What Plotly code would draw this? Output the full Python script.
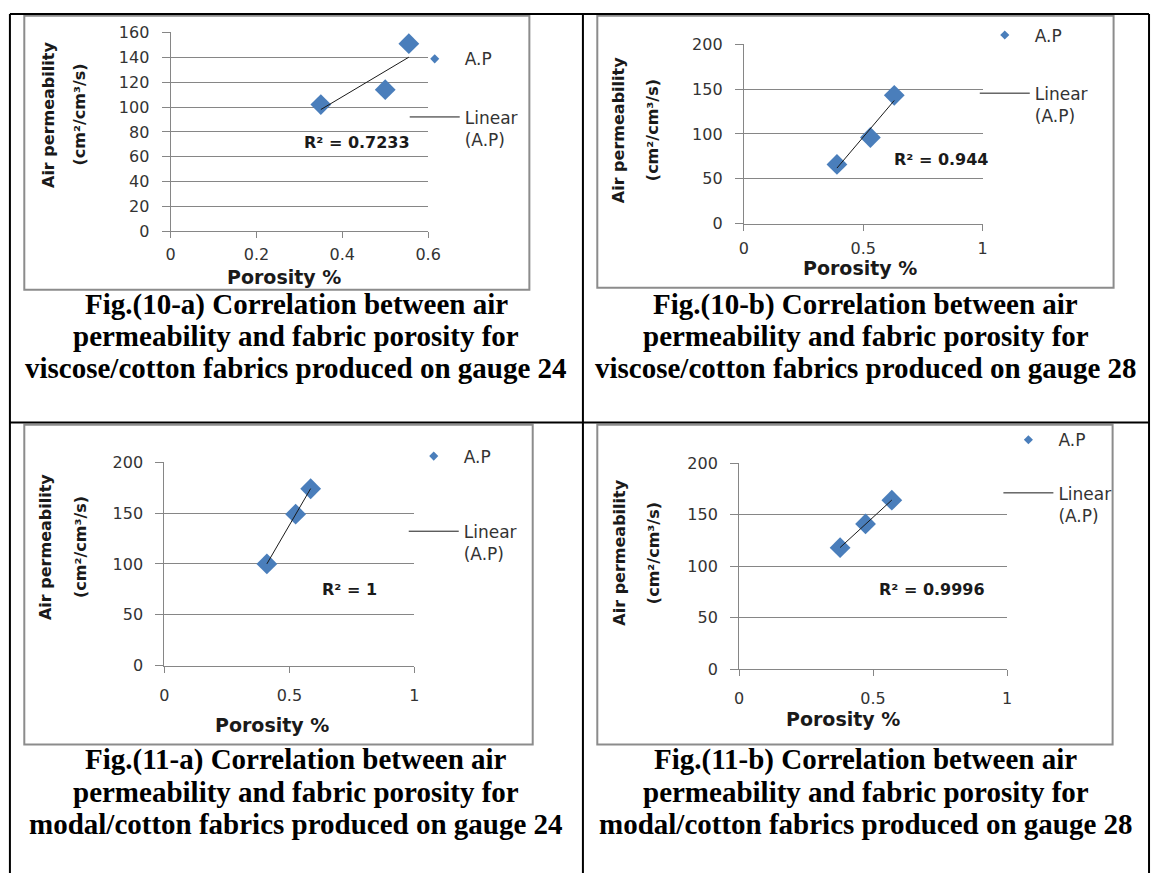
import numpy as np
import plotly.graph_objects as go

# ---------------- data ----------------
porosity_10a = [0.35, 0.50, 0.555]
airperm_10a = [102, 114, 151]
porosity_10b = [0.39, 0.53, 0.63]
airperm_10b = [66, 96, 143]
porosity_11a = [0.41, 0.525, 0.585]
airperm_11a = [100, 149, 174]
porosity_11b = [0.377, 0.472, 0.570]
airperm_11b = [118, 141, 164]

r2_labels = ["R² = 0.7233", "R² = 0.944", "R² = 1", "R² = 0.9996"]
x_ranges = [[0, 0.6], [0, 1], [0, 1], [0, 1]]
x_dticks = [0.2, 0.5, 0.5, 0.5]
y_ranges = [[0, 160], [0, 200], [0, 200], [0, 200]]
y_dticks = [20, 50, 50, 50]

captions = [
    ["Fig.(10-a) Correlation between air", "permeability and fabric porosity for",
     "viscose/cotton fabrics produced on gauge 24"],
    ["Fig.(10-b) Correlation between air", "permeability and fabric porosity for",
     "viscose/cotton fabrics produced on gauge 28"],
    ["Fig.(11-a) Correlation between air", "permeability and fabric porosity for",
     "modal/cotton fabrics produced on gauge 24"],
    ["Fig.(11-b) Correlation between air", "permeability and fabric porosity for",
     "modal/cotton fabrics produced on gauge 28"],
]
series_x = [porosity_10a, porosity_10b, porosity_11a, porosity_11b]
series_y = [airperm_10a, airperm_10b, airperm_11a, airperm_11b]

# ---------------- layout geometry (pixels) ----------------
W, H = 1164, 883
def px(x):
    return x / W
def py(y):
    return 1 - y / H

# plot areas: (x_left, x_right, y_top, y_bottom)
plot_px = [(168.2, 429.8, 24.0, 227.3), (750.4, 993.0, 36.0, 219.3),
           (161.8, 415.9, 463.3, 671.0), (745.6, 1017.8, 464.0, 675.0)]
frame_px = [(19.6, 7, 532.6, 287), (601.6, 7, 1126, 285),
            (19.6, 425, 536, 751.7), (601.6, 425, 1125, 751.7)]
xtitle_px = [(283, 274), (868.6, 265), (271, 731.7), (850.9, 726)]
ytitle_px = [(44, 76, 108), (622.5, 657, 124), (40.5, 76, 550), (624.5, 659.5, 555.8)]
r2_px = [(357.5, 136), (951, 154), (350.4, 593.3), (941.4, 593.3)]
legend_px = [(406, 33), (985, 8.7), (405, 439), (1009, 422.3)]
legend_gap = [33, 33, 50, 28]
xtick_standoff = [2, 4, 9, 8]
caption_cx = [296, 874.5, 296, 874.5]
caption_base = [[311, 343, 376], [311, 343, 376], [776, 809, 842], [776, 809, 842]]

MARK = "#4A7EBB"
GRID = "#868686"
TXT = "#333333"
CHART_FONT = "DejaVu Sans"
CAP_FONT = "Liberation Serif"

fig = go.Figure()
annotations = []
shapes = []
layout = dict(width=W, height=H, margin=dict(l=0, r=0, t=0, b=0), autosize=False,
              paper_bgcolor="white", plot_bgcolor="white", showlegend=True)

for i in range(4):
    n = "" if i == 0 else str(i + 1)
    xa, ya = "x" + n, "y" + n
    leg = "legend" + n
    xl, xr, yt, yb = plot_px[i]
    xs = np.array(series_x[i], dtype=float)
    ys = np.array(series_y[i], dtype=float)
    slope, intercept = np.polyfit(xs, ys, 1)
    fit_x = np.array([xs.min(), xs.max()])
    fit_y = slope * fit_x + intercept

    fig.add_trace(go.Scatter(x=xs, y=ys, mode="markers", xaxis=xa, yaxis=ya,
                             marker=dict(symbol="diamond", size=16, color=MARK,
                                         line=dict(width=0)),
                             name="A.P", legend=leg, legendgroup="ap" + n,
                             showlegend=False, cliponaxis=False))
    fig.add_trace(go.Scatter(x=[None], y=[None], mode="markers", xaxis=xa, yaxis=ya,
                             marker=dict(symbol="diamond", size=7, color=MARK),
                             name="A.P", legend=leg, legendgroup="ap" + n,
                             showlegend=True))
    fig.add_trace(go.Scatter(x=fit_x, y=fit_y, mode="lines", xaxis=xa, yaxis=ya,
                             line=dict(color="#1a1a1a", width=1),
                             name="Linear<br>(A.P)", legend=leg,
                             legendgroup="lin" + n, showlegend=True))

    tickfont = dict(family=CHART_FONT, size=16, color=TXT)
    layout["xaxis" + n] = dict(domain=[px(xl), px(xr)], anchor=ya, range=x_ranges[i],
                               dtick=x_dticks[i], tick0=0, showgrid=False, zeroline=False,
                               showline=True, linecolor=GRID, linewidth=1,
                               ticks="outside", ticklen=6, tickcolor=GRID,
                               tickfont=tickfont, ticklabelstandoff=xtick_standoff[i],
                               fixedrange=True)
    layout["yaxis" + n] = dict(domain=[py(yb), py(yt)], anchor=xa, range=y_ranges[i],
                               dtick=y_dticks[i], tick0=0, showgrid=True, gridcolor=GRID,
                               gridwidth=1, zeroline=False, showline=True,
                               linecolor=GRID, linewidth=1, ticks="outside", ticklen=8,
                               tickcolor=GRID, tickfont=tickfont, ticklabelstandoff=9,
                               fixedrange=True)
    lx, ly = legend_px[i]
    layout[leg] = dict(x=px(lx), y=py(ly), xanchor="left", yanchor="top",
                       bgcolor="rgba(0,0,0,0)", borderwidth=0,
                       font=dict(family=CHART_FONT, size=17, color=TXT),
                       itemwidth=50, tracegroupgap=legend_gap[i],
                       traceorder="grouped", valign="top")

    # axis titles
    tx, ty = xtitle_px[i]
    annotations.append(dict(text="<b>Porosity %</b>", x=px(tx), y=py(ty), xref="paper",
                            yref="paper", showarrow=False, xanchor="center",
                            yanchor="middle",
                            font=dict(family=CHART_FONT, size=19, color="#1a1a1a")))
    y1x, y2x, ycy = ytitle_px[i]
    annotations.append(dict(text="<b>Air permeability</b>", x=px(y1x), y=py(ycy),
                            xref="paper", yref="paper", showarrow=False, textangle=-90,
                            xanchor="center", yanchor="middle",
                            font=dict(family=CHART_FONT, size=16, color="#1a1a1a")))
    annotations.append(dict(text="<b>(cm²/cm³/s)</b>", x=px(y2x), y=py(ycy),
                            xref="paper", yref="paper", showarrow=False, textangle=-90,
                            xanchor="center", yanchor="middle",
                            font=dict(family=CHART_FONT, size=16, color="#1a1a1a")))
    rx, ry = r2_px[i]
    annotations.append(dict(text="<b>" + r2_labels[i] + "</b>", x=px(rx), y=py(ry),
                            xref="paper", yref="paper", showarrow=False,
                            xanchor="center", yanchor="middle",
                            font=dict(family=CHART_FONT, size=16, color="#1a1a1a")))
    # captions
    for k, line in enumerate(captions[i]):
        annotations.append(dict(text="<b>" + line + "</b>", x=px(caption_cx[i]),
                                y=py(caption_base[i][k] - 9), xref="paper", yref="paper",
                                showarrow=False, xanchor="center", yanchor="middle",
                                font=dict(family=CAP_FONT, size=29, color="black")))
    # chart-area frame
    fx0, fy0, fx1, fy1 = frame_px[i]
    shapes.append(dict(type="rect", xref="paper", yref="paper", x0=px(fx0), x1=px(fx1),
                       y0=py(fy1), y1=py(fy0), line=dict(color="#8c8c8c", width=2),
                       layer="below"))

# table lines
for (x0, y0, x1, y1) in [(5, 5, 1162, 5), (5, 422.5, 1162, 422.5), (5, 5, 5, 883),
                         (587, 5, 587, 883), (1162, 5, 1162, 883)]:
    shapes.append(dict(type="line", xref="paper", yref="paper", x0=px(x0), x1=px(x1),
                       y0=py(y0), y1=py(y1), line=dict(color="black", width=2)))

layout["annotations"] = annotations
layout["shapes"] = shapes
fig.update_layout(**layout)
fig.write_html("out.html")
